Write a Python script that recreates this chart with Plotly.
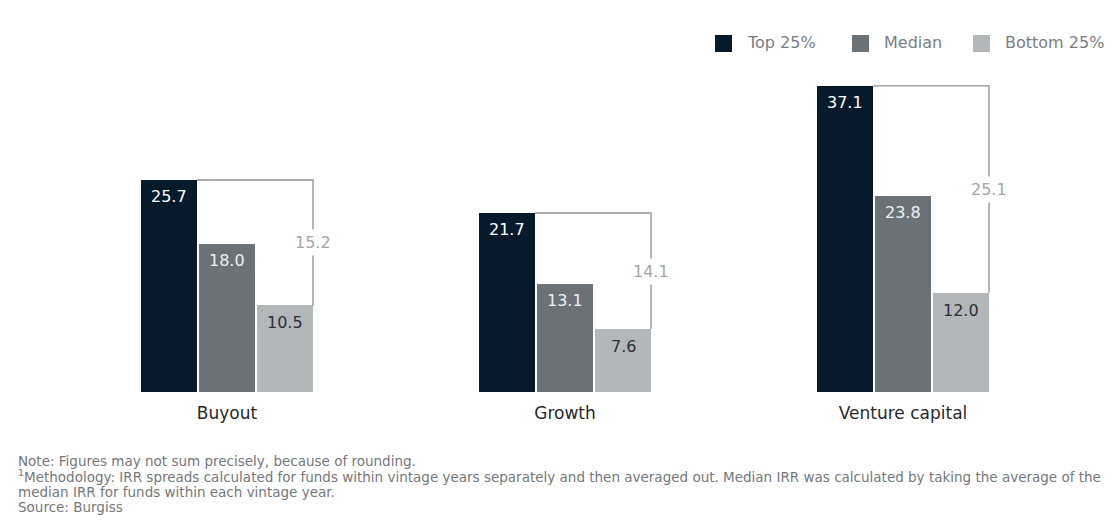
import plotly.graph_objects as go

# IRR by quartile for each private-equity strategy (%)
categories = ["Buyout", "Growth", "Venture capital"]
series_names = ["Top 25%", "Median", "Bottom 25%"]
top_25 = [25.7, 21.7, 37.1]
median = [18.0, 13.1, 23.8]
bottom_25 = [10.5, 7.6, 12.0]
spread = [15.2, 14.1, 25.1]  # top-quartile minus bottom-quartile IRR

colors = ["#071a2b", "#6a7177", "#b4b7ba"]
text_colors = ["#ffffff", "#eef0f2", "#2a2f33"]
FONT = "DejaVu Sans"

W, H = 1116, 522
ml, mr, mt, mb = 58, 44, 62, 130
pw, ph = W - ml - mr, H - mt - mb


def px_x(x):
    return (x - ml) / pw


def px_y(y):
    return (H - mb - y) / ph


# geometry of the bars, in category units (one category = 338 px)
bar_w = 0.1657
offsets = [-0.2544, -0.0828, 0.0888]

fig = go.Figure()
values = [top_25, median, bottom_25]
annotations = []
for name, vals, col, tcol, off in zip(series_names, values, colors, text_colors, offsets):
    xs = list(range(len(categories)))
    fig.add_trace(go.Bar(
        x=xs, y=vals, name=name,
        width=bar_w, offset=off,
        marker=dict(color=col, line=dict(width=0)),
        showlegend=False,
    ))
    # value label just inside the top of each bar
    for x, v in zip(xs, vals):
        annotations.append(dict(x=x + off + bar_w / 2, y=v, xref="x", yref="y",
                                text=f"{v:.1f}", showarrow=False, yanchor="middle", yshift=-17,
                                font=dict(family=FONT, size=16, color=tcol)))

shapes = []
line_col = "#8d9195"
for i, (t, b, s) in enumerate(zip(top_25, bottom_25, spread)):
    x_left = i + offsets[0] + bar_w
    x_right = i + offsets[2] + bar_w
    mid = (t + b) / 2
    # bracket: across from the top-quartile bar, then down to the bottom-quartile bar
    shapes.append(dict(type="path", xref="x", yref="y",
                       path=f"M {x_left} {t} L {x_right} {t} L {x_right} {b}",
                       line=dict(color=line_col, width=1.3)))
    annotations.append(dict(x=x_right, y=mid, xref="x", yref="y", text=f"{s:.1f}",
                            showarrow=False, bgcolor="white", borderpad=3,
                            font=dict(family=FONT, size=16, color="#a3a7ab")))
    # per-group baseline
    shapes.append(dict(type="line", xref="x", yref="y",
                       x0=i - 0.296, x1=i + 0.291, y0=-0.2, y1=-0.2,
                       line=dict(color="#c9cccf", width=1.5)))

# legend: colour swatch + label
legend_x = [715, 852, 973]
for name, col, lx in zip(series_names, colors, legend_x):
    shapes.append(dict(type="rect", xref="paper", yref="paper",
                       x0=px_x(lx), x1=px_x(lx + 17), y0=px_y(35), y1=px_y(52),
                       fillcolor=col, line=dict(width=0)))
    annotations.append(dict(x=px_x(lx + 30), y=px_y(43), xref="paper", yref="paper",
                            text=name, showarrow=False, xanchor="left", yanchor="middle",
                            font=dict(family=FONT, size=16, color="#7a7e82")))

notes = [
    "Note: Figures may not sum precisely, because of rounding.",
    "<sup>1</sup>Methodology: IRR spreads calculated for funds within vintage years separately and then averaged out. "
    "Median IRR was calculated by taking the average of the",
    "median IRR for funds within each vintage year.",
    "Source: Burgiss",
]
for k, line in enumerate(notes):
    annotations.append(dict(x=px_x(16), y=px_y(461 + 15.3 * k), xref="paper", yref="paper",
                            text=line, showarrow=False, xanchor="left", yanchor="middle",
                            font=dict(family=FONT, size=13.5, color="#74787c")))

fig.update_layout(
    width=W, height=H,
    margin=dict(l=ml, r=mr, t=mt, b=mb, autoexpand=False),
    plot_bgcolor="white", paper_bgcolor="white",
    showlegend=False,
    xaxis=dict(range=[-0.5, 2.5], tickvals=list(range(len(categories))), ticktext=categories,
               showgrid=False, zeroline=False, showline=False, ticks="",
               ticklabelstandoff=9,
               tickfont=dict(family=FONT, size=17, color="#26292c")),
    yaxis=dict(range=[0, 40], visible=False, showgrid=False, zeroline=False),
    shapes=shapes,
    annotations=annotations,
    bargap=0, font=dict(family=FONT),
)

fig.write_html("out.html")
